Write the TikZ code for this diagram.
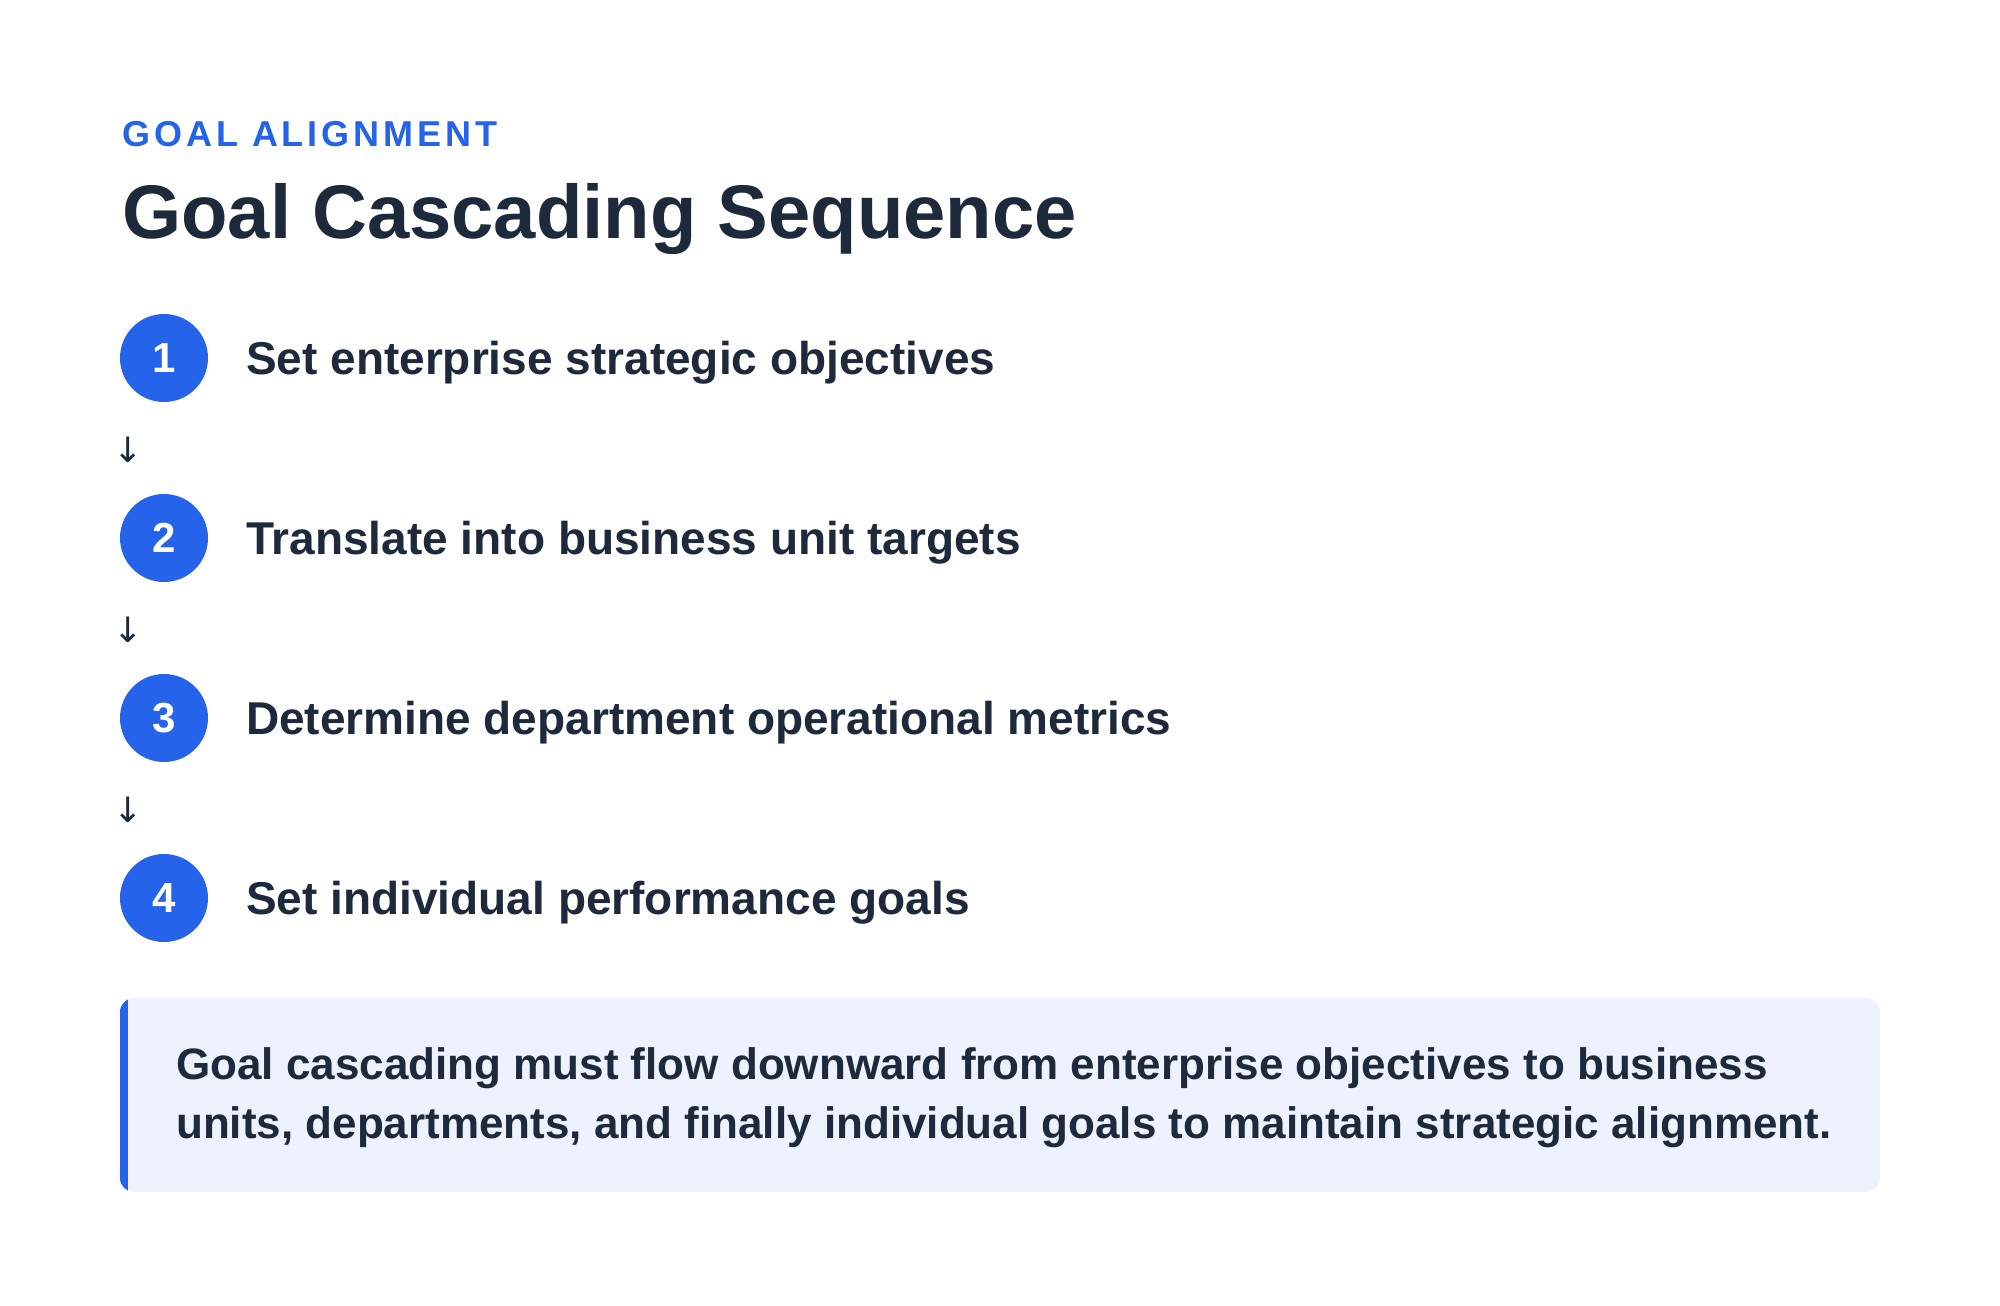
\documentclass[tikz,border=0pt]{standalone}
\usepackage{fontspec}
\setmainfont{Liberation Sans}
\newfontfamily\arrowfont{DejaVu Sans}
\usepackage{tikz}

\definecolor{accentblue}{HTML}{2563EB}
\definecolor{inkdark}{HTML}{1E293B}
\definecolor{notebg}{HTML}{EEF2FE}

\begin{document}
\begin{tikzpicture}[x=1pt, y=-1pt,
    stepnum/.style={circle, fill=accentblue, minimum size=88pt, inner sep=0pt,
      text=white, font=\fontsize{42}{42}\selectfont\bfseries},
    steptext/.style={anchor=base west, inner sep=0pt, text=inkdark,
      font=\fontsize{46}{46}\selectfont\bfseries},
    downmark/.style={inner sep=0pt, text=inkdark, font=\arrowfont\fontsize{35}{35}\selectfont}]
\useasboundingbox (0,0) rectangle (2000,1306);

% heading
\node[anchor=base west, inner sep=0pt, text=accentblue,
  font=\fontsize{36}{36}\selectfont\bfseries\addfontfeature{LetterSpace=11}] (kicker) at (122,146) {GOAL ALIGNMENT};
\node[anchor=base west, inner sep=0pt, text=inkdark,
  font=\fontsize{76}{76}\selectfont\bfseries] (title) at (122,238) {Goal Cascading Sequence};

% steps
\node[stepnum] (n1) at (164,358) {1};
\node[steptext] (s1) at (246,374) {Set enterprise strategic objectives};
\node[downmark] (d1) at (128,450) {↓};
\node[stepnum] (n2) at (164,538) {2};
\node[steptext] (s2) at (246,554) {Translate into business unit targets};
\node[downmark] (d2) at (128,630) {↓};
\node[stepnum] (n3) at (164,718) {3};
\node[steptext] (s3) at (246,734) {Determine department operational metrics};
\node[downmark] (d3) at (128,810) {↓};
\node[stepnum] (n4) at (164,898) {4};
\node[steptext] (s4) at (246,914) {Set individual performance goals};

% note box
\begin{scope}
\clip[rounded corners=14pt] (120,998) rectangle (1880,1192);
\fill[notebg] (120,998) rectangle (1880,1192);
\fill[accentblue] (120,998) rectangle (128,1192);
\end{scope}
\node[anchor=base west, inner sep=0pt, text=inkdark, align=left,
  font=\fontsize{44}{59}\selectfont\bfseries] (note) at (176,1138)
  {Goal cascading must flow downward from enterprise objectives to business\\
   units, departments, and finally individual goals to maintain strategic alignment.};
\end{tikzpicture}
\end{document}
